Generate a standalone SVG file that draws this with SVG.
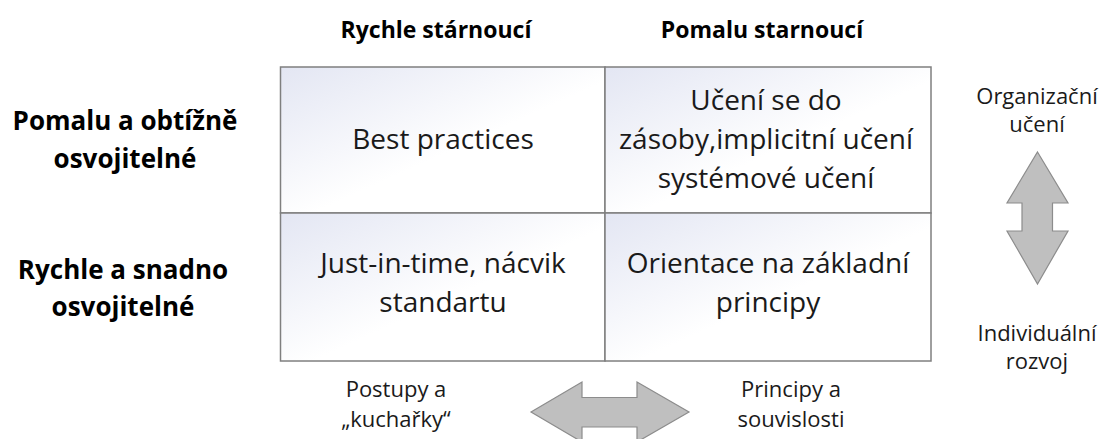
<svg xmlns="http://www.w3.org/2000/svg" width="1100" height="439" viewBox="0 0 1100 439">
<defs>
<linearGradient id="cellFill" x1="0" y1="0" x2="1" y2="1">
<stop offset="0" stop-color="#e3e6f3"/>
<stop offset="0.55" stop-color="#ffffff"/>
<stop offset="1" stop-color="#ffffff"/>
</linearGradient>
<style>
.cell{fill:url(#cellFill);stroke:#7f7f7f;stroke-width:1.5}
.ct{font-family:"Open Sans","Liberation Sans",sans-serif;font-size:28px;fill:#1a1a1a;text-anchor:middle}
.hd{font-family:"Open Sans","Liberation Sans",sans-serif;font-size:23px;font-weight:bold;fill:#000;text-anchor:middle}
.rl{font-family:"Open Sans","Liberation Sans",sans-serif;font-size:26px;font-weight:bold;fill:#000;text-anchor:middle}
.sm{font-family:"Open Sans","Liberation Sans",sans-serif;font-size:22px;fill:#1a1a1a;text-anchor:middle}
.arrow{fill:#bfbfbf;stroke:#8c8c8c;stroke-width:1.2;stroke-linejoin:miter}
</style>
</defs>
<rect width="1100" height="439" fill="#ffffff"/>
<g id="header-rychle"><text class="hd" x="436" y="38">Rychle stárnoucí</text></g>
<g id="header-pomalu"><text class="hd" x="762" y="38">Pomalu starnoucí</text></g>
<g id="row-pomalu"><text class="rl" x="125" y="130">Pomalu a obtížně</text><text class="rl" x="125" y="168">osvojitelné</text></g>
<g id="row-rychle"><text class="rl" x="123" y="279">Rychle a snadno</text><text class="rl" x="123" y="316">osvojitelné</text></g>
<g id="cell-best">
<rect class="cell" x="280.5" y="67" width="324.5" height="146"/>
<text class="ct" x="443" y="149">Best practices</text>
</g>
<g id="cell-uceni">
<rect class="cell" x="605" y="67" width="326" height="146"/>
<text class="ct" x="766" y="110">Učení se do</text>
<text class="ct" x="766" y="149">zásoby,implicitní učení</text>
<text class="ct" x="766" y="188">systémové učení</text>
</g>
<g id="cell-jit">
<rect class="cell" x="280.5" y="213" width="324.5" height="148"/>
<text class="ct" x="443" y="273">Just-in-time, nácvik</text>
<text class="ct" x="443" y="312">standartu</text>
</g>
<g id="cell-orientace">
<rect class="cell" x="605" y="213" width="326" height="148"/>
<text class="ct" x="768" y="273">Orientace na základní</text>
<text class="ct" x="768" y="312">principy</text>
</g>
<g id="label-org"><text class="sm" x="1037" y="104">Organizační</text><text class="sm" x="1037" y="132">učení</text></g>
<g id="label-ind"><text class="sm" x="1037" y="341">Individuální</text><text class="sm" x="1037" y="369">rozvoj</text></g>
<g id="label-postupy"><text class="sm" x="396" y="397">Postupy a</text><text class="sm" x="396" y="427">„kuchařky“</text></g>
<g id="label-principy"><text class="sm" x="791" y="397">Principy a</text><text class="sm" x="791" y="427">souvislosti</text></g>
<g id="connectors">
<path class="arrow" d="M1037.5,152 L1068,203 L1052.5,203 L1052.5,231 L1068,231 L1037.5,284 L1007,231 L1022,231 L1022,203 L1007,203 Z"/>
<path class="arrow" d="M531,412 L582,382 L582,397.5 L637,397.5 L637,382 L689,412 L637,442 L637,427 L582,427 L582,442 Z"/>
</g>
</svg>
